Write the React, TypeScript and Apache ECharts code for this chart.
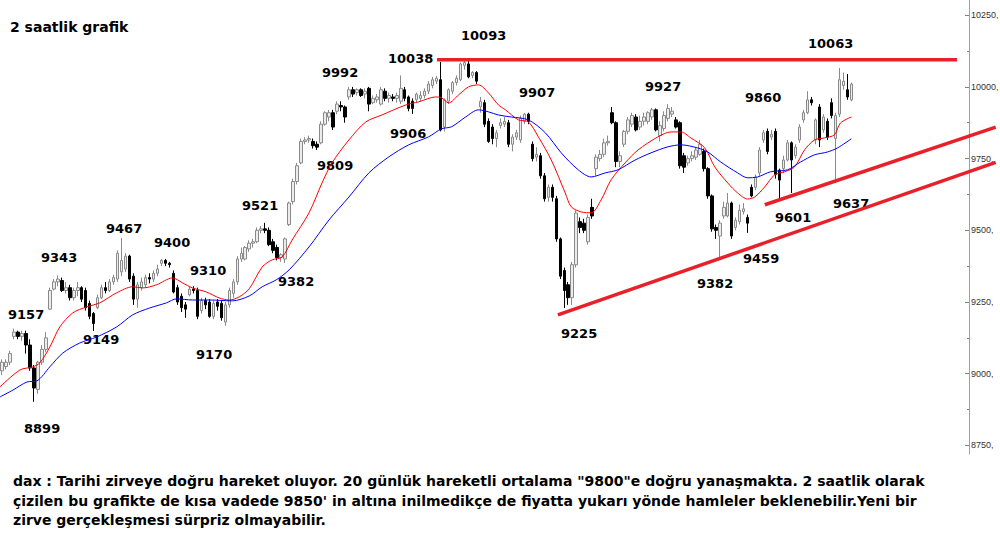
import React, { useEffect, useRef } from "react";
import * as echarts from "echarts";

// ---- candle data (2-hour bars) ----
const opens = [
  9010, 9025, 9040, 9130, 9145, 9130, 9140, 9100, 9020, 8945,
  9040, 9085, 9225, 9295, 9320, 9325, 9290, 9300, 9265, 9290,
  9300, 9290, 9245, 9210, 9230, 9265, 9300, 9290, 9320, 9330,
  9355, 9365, 9410, 9340, 9260, 9300, 9310, 9335, 9330, 9350,
  9385, 9395, 9385, 9350, 9300, 9270, 9240, 9275, 9295, 9290,
  9220, 9255, 9250, 9200, 9250, 9245, 9180, 9240, 9280, 9320,
  9400, 9400, 9435, 9455, 9460, 9500, 9505, 9500, 9460, 9440,
  9405, 9400, 9520, 9600, 9670, 9735, 9810, 9815, 9810, 9800,
  9805, 9870, 9895, 9910, 9915, 9935, 9930, 9965, 9990, 9980,
  9990, 9975, 9995, 9945, 9955, 9940, 9985, 9960, 9965, 9960,
  9950, 9990, 9965, 9950, 9955, 9960, 9970, 9985, 10005, 10020,
  10025, 9860, 9950, 9985, 10015, 10025, 10075, 10080, 10040, 10050,
  9930, 9945, 9880, 9860, 9820, 9865, 9870, 9875, 9800, 9825,
  9815, 9880, 9905, 9800, 9755, 9760, 9690, 9615, 9650, 9610,
  9470, 9360, 9310, 9265, 9380, 9530, 9525, 9460, 9580, 9715,
  9750, 9765, 9805, 9910, 9875, 9740, 9800, 9845, 9870, 9895,
  9860, 9880, 9880, 9895, 9920, 9830, 9855, 9890, 9905, 9885,
  9875, 9760, 9735, 9750, 9755, 9765, 9775, 9715, 9620, 9510,
  9480, 9550, 9550, 9595, 9510, 9530, 9565, 9545, 9650, 9650,
  9700, 9815, 9845, 9825, 9845, 9710, 9715, 9745, 9805, 9760,
  9815, 9885, 9910, 9955, 9815, 9930, 9850, 9880, 9945, 9820,
  9905, 10005, 9990, 9955,
];
const closes = [
  9040, 9040, 9070, 9145, 9130, 9140, 9100, 9020, 8950, 9040,
  9085, 9125, 9290, 9320, 9330, 9290, 9300, 9265, 9290, 9300,
  9260, 9230, 9200, 9175, 9265, 9300, 9290, 9320, 9335, 9420,
  9395, 9410, 9330, 9260, 9310, 9320, 9335, 9330, 9350, 9365,
  9395, 9385, 9380, 9285, 9250, 9230, 9225, 9295, 9290, 9200,
  9255, 9240, 9200, 9245, 9235, 9195, 9240, 9290, 9320, 9400,
  9420, 9440, 9455, 9460, 9500, 9505, 9500, 9450, 9430, 9405,
  9415, 9470, 9595, 9670, 9725, 9810, 9815, 9820, 9795, 9790,
  9870, 9910, 9910, 9860, 9940, 9930, 9895, 9990, 9975, 9990,
  9970, 9985, 9940, 9960, 9965, 9990, 9960, 9970, 9960, 9970,
  9995, 9960, 9925, 9925, 9975, 9970, 9985, 10010, 10025, 10030,
  9850, 9955, 9990, 10015, 10030, 10080, 10085, 10035, 10050, 10020,
  9950, 9870, 9810, 9820, 9840, 9875, 9880, 9800, 9825, 9840,
  9890, 9905, 9880, 9750, 9765, 9690, 9610, 9650, 9615, 9470,
  9340, 9290, 9265, 9380, 9560, 9510, 9500, 9545, 9550, 9755,
  9765, 9805, 9810, 9875, 9740, 9760, 9845, 9885, 9900, 9850,
  9880, 9895, 9910, 9920, 9850, 9865, 9900, 9925, 9915, 9860,
  9725, 9720, 9750, 9760, 9780, 9800, 9715, 9620, 9505, 9500,
  9525, 9580, 9595, 9480, 9535, 9570, 9575, 9525, 9620, 9685,
  9780, 9840, 9775, 9835, 9695, 9675, 9745, 9805, 9745, 9790,
  9860, 9910, 9955, 9945, 9885, 9815, 9895, 9825, 9900, 9900,
  10025, 10020, 9965, 10010,
];
const lows = [
  8995, 9015, 9030, 9120, 9120, 9115, 9070, 9010, 8902, 8930,
  9030, 9075, 9222, 9290, 9305, 9285, 9280, 9255, 9255, 9270,
  9250, 9220, 9190, 9149, 9225, 9260, 9280, 9285, 9310, 9320,
  9340, 9355, 9320, 9240, 9230, 9290, 9300, 9315, 9320, 9340,
  9375, 9375, 9370, 9280, 9240, 9215, 9195, 9270, 9280, 9190,
  9210, 9225, 9195, 9190, 9220, 9185, 9167, 9230, 9265, 9310,
  9390, 9395, 9425, 9440, 9455, 9490, 9490, 9445, 9420, 9395,
  9390, 9386, 9515, 9590, 9660, 9730, 9800, 9805, 9785, 9780,
  9800, 9865, 9880, 9850, 9905, 9915, 9875, 9955, 9965, 9970,
  9965, 9960, 9915, 9940, 9945, 9935, 9950, 9945, 9950, 9945,
  9940, 9950, 9915, 9906, 9945, 9950, 9960, 9975, 9995, 10010,
  9845, 9845, 9940, 9975, 10005, 10020, 10060, 10030, 10030, 10010,
  9910, 9860, 9805, 9800, 9790, 9855, 9860, 9790, 9775, 9815,
  9805, 9870, 9870, 9740, 9740, 9680, 9600, 9600, 9600, 9460,
  9330, 9229, 9240, 9240, 9370, 9490, 9490, 9450, 9540, 9690,
  9740, 9755, 9795, 9870, 9720, 9720, 9790, 9835, 9860, 9845,
  9850, 9865, 9870, 9885, 9845, 9810, 9845, 9880, 9895, 9855,
  9715, 9700, 9725, 9740, 9745, 9760, 9705, 9610, 9495, 9470,
  9397, 9540, 9545, 9470, 9500, 9520, 9555, 9491, 9615, 9640,
  9690, 9805, 9765, 9815, 9680, 9606, 9700, 9740, 9630, 9750,
  9805, 9875, 9905, 9935, 9800, 9790, 9840, 9815, 9890, 9665,
  9895, 9990, 9955, 9950,
];
const highs = [
  9050, 9050, 9080, 9157, 9150, 9150, 9150, 9120, 9030, 9045,
  9100, 9145, 9300, 9330, 9343, 9335, 9320, 9310, 9300, 9320,
  9305, 9300, 9255, 9215, 9275, 9310, 9320, 9330, 9345, 9430,
  9473, 9420, 9415, 9350, 9320, 9335, 9345, 9350, 9360, 9380,
  9400, 9400, 9390, 9360, 9310, 9280, 9250, 9303, 9305, 9300,
  9265, 9265, 9260, 9255, 9260, 9255, 9250, 9300, 9330, 9410,
  9440, 9445, 9465, 9470, 9510, 9515, 9526, 9510, 9470, 9450,
  9420, 9475, 9600, 9680, 9735, 9820, 9825, 9830, 9820, 9810,
  9880, 9915, 9920, 9920, 9950, 9950, 9935, 10000, 10000, 9995,
  9995, 9995, 10000, 9970, 9975, 10000, 9995, 9980, 9975, 9980,
  10040, 10000, 9970, 9960, 9980, 9985, 9995, 10020, 10035, 10038,
  10087, 9960, 9995, 10020, 10040, 10085, 10093, 10090, 10055, 10055,
  9965, 9955, 9890, 9870, 9850, 9890, 9895, 9885, 9835, 9850,
  9900, 9909, 9910, 9810, 9790, 9770, 9700, 9660, 9660, 9620,
  9475, 9370, 9320, 9390, 9570, 9545, 9540, 9555, 9610, 9765,
  9780, 9820, 9830, 9930, 9880, 9775, 9850, 9895, 9910, 9905,
  9900, 9910, 9915, 9927, 9925, 9880, 9915, 9940, 9930, 9895,
  9880, 9770, 9760, 9775, 9790, 9815, 9785, 9720, 9625, 9520,
  9535, 9600, 9630, 9600, 9545, 9590, 9595, 9555, 9660, 9695,
  9790, 9850, 9855, 9850, 9855, 9715, 9760, 9815, 9810, 9800,
  9870, 9920, 9985, 9965, 9890, 9940, 9905, 9890, 9960, 9910,
  10066, 10050, 10045, 10015,
];

// ---- moving averages: [bar index, value] ----
const maFast: [number, number][] = [
  [-0.5, 8954], [4.5, 9013], [7.75, 9024], [9.5, 9038], [12, 9093], [14.5, 9163],
  [17.75, 9212], [21.25, 9233], [24.5, 9247], [28.75, 9282], [32.75, 9303],
  [35.25, 9299], [38.75, 9310], [42.75, 9334], [45.25, 9317], [47.75, 9299],
  [51.25, 9285], [54.5, 9264], [57, 9257], [59.5, 9268], [62, 9296], [65.25, 9372],
  [67.75, 9397], [70.25, 9407], [72.75, 9466], [77, 9561], [80.25, 9665],
  [82.75, 9735], [87, 9815], [91.25, 9878], [95.25, 9902], [101.25, 9937],
  [104.5, 9948], [108.75, 9965], [110.25, 9962], [112, 9944], [114.5, 9972],
  [117, 10000], [119.5, 10007], [122, 9979], [124.5, 9937], [126.25, 9920],
  [129.5, 9885], [132, 9878], [134.5, 9826], [137.75, 9745], [141.25, 9630],
  [142.75, 9582], [145.25, 9564], [147.75, 9561], [150.25, 9606], [152.75, 9676],
  [156.25, 9735], [159.5, 9780], [164.5, 9826], [167.75, 9843], [170.25, 9843],
  [172.75, 9822], [176.25, 9787], [178.75, 9721], [182, 9665], [184.5, 9630],
  [187, 9609], [188.75, 9616], [191.25, 9651], [193.75, 9693], [196.25, 9704],
  [198.75, 9721], [201.25, 9780], [203.75, 9815], [206.25, 9822], [208.75, 9833],
  [210.25, 9874], [213, 9895],
];
const maSlow: [number, number][] = [
  [-0.5, 8919], [2.75, 8943], [6.25, 8971], [8.75, 8975], [12, 9024], [15.25, 9072],
  [19.5, 9107], [23.75, 9128], [28.75, 9163], [32.75, 9205], [37, 9229],
  [41.25, 9247], [43.75, 9261], [47.75, 9257], [52, 9257], [57.75, 9254],
  [62, 9271], [65.25, 9303], [68.75, 9327], [72, 9362], [77, 9442], [82, 9536],
  [87, 9616], [92, 9700], [97, 9756], [102, 9798], [107, 9826], [110.25, 9854],
  [112.75, 9861], [116.25, 9895], [119.5, 9920], [122, 9913], [124.5, 9902],
  [127.75, 9895], [132, 9885], [136.25, 9840], [140.25, 9770], [144.5, 9711],
  [147.75, 9686], [151.25, 9700], [154.5, 9711], [158.75, 9745], [162.75, 9770],
  [167, 9791], [170.25, 9798], [174.5, 9787], [177, 9773], [180.25, 9738],
  [184.5, 9700], [187, 9683], [189.5, 9686], [192.75, 9704], [197, 9711],
  [200.25, 9738], [203.75, 9763], [207, 9773], [209.5, 9787], [213, 9819],
];

// ---- trend lines: [bar index, value] ----
const resistanceLine: [number, number][] = [[109.1, 10095], [239.5, 10095]];
const upperSupport: [number, number][] = [[191.3, 9589], [249.2, 9860]];
const lowerSupport: [number, number][] = [[139.4, 9205], [249.2, 9737]];

// ---- axis ticks ----
const majorTicks = [8750, 9000, 9250, 9500, 9750, 10000, 10250];
const minorTicks = [8875, 9125, 9375, 9625, 9875, 10125];

// ---- annotations ----
const priceNotes: [string, number, number][] = [
  ["10093", 461, 35], ["10038", 388, 58], ["9992", 322, 72], ["10063", 808, 43],
  ["9907", 519, 92], ["9927", 645, 86], ["9860", 745, 97], ["9906", 390, 133],
  ["9809", 317, 165], ["9521", 242, 205], ["9467", 106, 228], ["9400", 154, 242],
  ["9343", 41, 257], ["9310", 190, 270], ["9382", 278, 281], ["9157", 8, 314],
  ["9149", 83, 339], ["9170", 196, 354], ["9225", 561, 333], ["9601", 775, 217],
  ["9637", 833, 203], ["9459", 743, 258], ["9382", 697, 283], ["8899", 24, 428],
];
const title = "2 saatlik grafik";
const commentLines = [
  "dax : Tarihi zirveye doğru hareket oluyor. 20 günlük hareketli ortalama \"9800\"e doğru yanaşmakta. 2 saatlik olarak",
  "çizilen bu grafikte de kısa vadede 9850' in altına inilmedikçe de fiyatta yukarı yönde hamleler beklenebilir.Yeni bir",
  "zirve gerçekleşmesi sürpriz olmayabilir.",
];

const FONT = '"DejaVu Sans", Verdana, sans-serif';

export default function App() {
  const ref = useRef<HTMLDivElement>(null);
  useEffect(() => {
    if (!ref.current) return;
    const chart = echarts.init(ref.current, undefined, { renderer: "svg" });
    const n = opens.length;
    const slotCount = Math.round((n - 0.5) * 969 / 852);
    const categories = Array.from({ length: slotCount }, (_, i) => String(i));
    const candles = opens.map((o, i) => [o, closes[i], lows[i], highs[i]]);
    const yMin = 8720;
    const yMax = 10303;

    const textGraphics: any[] = priceNotes.map(([t, x, y]) => ({
      type: "text",
      x,
      y,
      style: { text: t, font: `bold 13px ${FONT}`, fill: "#000", verticalAlign: "middle" },
    }));
    textGraphics.push({
      type: "text",
      x: 10,
      y: 27,
      style: { text: title, font: `bold 14px ${FONT}`, fill: "#000", verticalAlign: "middle" },
    });
    commentLines.forEach((line, k) => {
      textGraphics.push({
        type: "text",
        x: 13,
        y: 481 + k * 19.5,
        style: { text: line, font: `bold 14px ${FONT}`, fill: "#000", verticalAlign: "middle" },
      });
    });

    chart.setOption({
      animation: false,
      backgroundColor: "#fff",
      grid: { left: 0, right: 31, top: 0, bottom: 96, containLabel: false, outerBoundsMode: "none" },
      xAxis: [
        { type: "category", data: categories, show: false, boundaryGap: true },
        { type: "value", min: -0.5, max: slotCount - 0.5, show: false },
      ],
      yAxis: [
        {
          type: "value",
          position: "right",
          min: yMin,
          max: yMax,
          splitLine: { show: false },
          axisLine: { show: true, onZero: false, lineStyle: { color: "#a0a0a0", width: 1 } },
          axisTick: { show: true, inside: true, length: 4, customValues: majorTicks, lineStyle: { color: "#808080" } },
          axisLabel: {
            show: true,
            customValues: majorTicks,
            formatter: (v: number) => `${v},`,
            margin: 2,
            color: "#333",
            fontFamily: '"Liberation Sans", Arial, sans-serif',
            fontSize: 9,
          },
        },
        {
          type: "value",
          position: "right",
          offset: 0,
          min: yMin,
          max: yMax,
          splitLine: { show: false },
          axisLine: { show: false, onZero: false },
          axisTick: { show: true, inside: true, length: 2, customValues: minorTicks, lineStyle: { color: "#808080" } },
          axisLabel: { show: false },
        },
      ],
      series: [
        {
          type: "candlestick",
          xAxisIndex: 0,
          yAxisIndex: 0,
          data: candles,
          barWidth: 3,
          itemStyle: {
            color: "#ececec",
            color0: "#000000",
            borderColor: "#8a8a8a",
            borderColor0: "#000000",
            borderWidth: 1,
          },
        },
        {
          type: "line",
          xAxisIndex: 1,
          yAxisIndex: 0,
          data: maFast,
          smooth: 0.3,
          symbol: "none",
          lineStyle: { color: "#ff0000", width: 1 },
        },
        {
          type: "line",
          xAxisIndex: 1,
          yAxisIndex: 0,
          data: maSlow,
          smooth: 0.3,
          symbol: "none",
          lineStyle: { color: "#0000ff", width: 1 },
        },
      ],
      graphic: textGraphics,
    });

    // trend lines, mapped through the chart's own scales
    const trendGraphics = [resistanceLine, upperSupport, lowerSupport].map((seg) => {
      const p1 = chart.convertToPixel({ xAxisIndex: 1, yAxisIndex: 0 }, seg[0]) as number[];
      const p2 = chart.convertToPixel({ xAxisIndex: 1, yAxisIndex: 0 }, seg[1]) as number[];
      return {
        type: "line",
        shape: { x1: p1[0], y1: p1[1], x2: p2[0], y2: p2[1] },
        style: { stroke: "#e8202a", lineWidth: 3.5 },
        z: 10,
      };
    });
    chart.setOption({ graphic: [...textGraphics, ...trendGraphics] });
    return () => chart.dispose();
  }, []);
  return (
    <div
      ref={ref}
      style={{ position: "absolute", left: 0, top: 0, width: 1000, height: 550, background: "#fff" }}
    />
  );
}
